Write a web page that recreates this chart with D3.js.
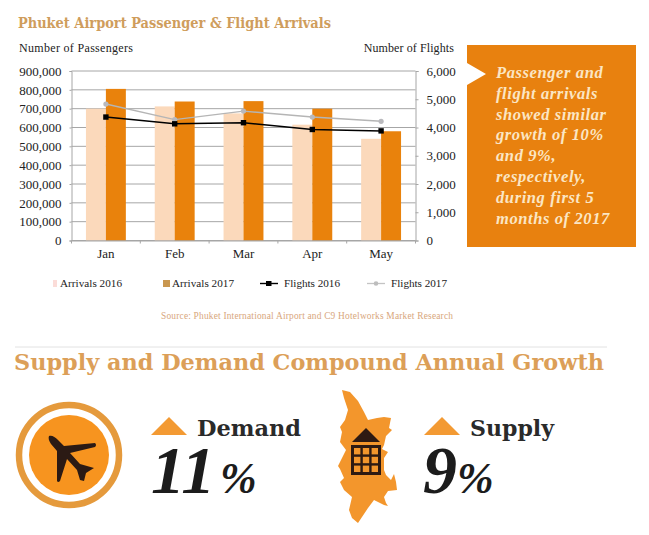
<!DOCTYPE html>
<html><head><meta charset="utf-8">
<script src="https://cdn.jsdelivr.net/npm/d3@7"></script>
<style>html,body{margin:0;padding:0;background:#fff}svg{display:block}text{font-family:"Liberation Serif",serif}</style>
</head><body><svg id="c" width="649" height="535"></svg>
<script>
const months=["Jan","Feb","Mar","Apr","May"];
const arrivals2016=[700000,712000,675000,615000,540000];
const arrivals2017=[805000,738000,740000,700000,580000];
const flights2016=[4370,4130,4170,3930,3880];
const flights2017=[4830,4280,4580,4370,4220];
const passengerTicks=[0,100000,200000,300000,400000,500000,600000,700000,800000,900000];
const flightTicks=[0,1000,2000,3000,4000,5000,6000];
const noteLines=["Passenger and","flight arrivals","showed similar","growth of 10%","and 9%,","respectively,","during first 5","months of 2017"];

const svg=d3.select("#c");
const L=71.5,R=415.5,T=71,B=240.5;
const x=d3.scaleBand().domain(months).range([L,R]).paddingInner(0.42).paddingOuter(0.21);
const yL=d3.scaleLinear().domain([0,900000]).range([B,T]);
const yR=d3.scaleLinear().domain([0,6000]).range([B,T]);
const cx=m=>x(m)+x.bandwidth()/2;
const fmt=d3.format(",");
const axisCol="#a6a6a6";
const wide='"DejaVu Serif",serif';

svg.append("text").attr("x",18).attr("y",27.5).attr("font-size",14.6).attr("font-weight","bold").attr("fill","#cf9d5c").attr("style",`font-family:${wide}`).attr("textLength",313).attr("lengthAdjust","spacingAndGlyphs").text("Phuket Airport Passenger & Flight Arrivals");
svg.append("text").attr("x",19).attr("y",52).attr("font-size",12).attr("fill","#222").attr("textLength",114).text("Number of Passengers");
svg.append("text").attr("x",454).attr("y",52).attr("text-anchor","end").attr("font-size",12).attr("fill","#222").attr("letter-spacing",0.1).text("Number of Flights");

// gridlines
svg.append("g").selectAll("line").data(passengerTicks).join("line")
 .attr("x1",L).attr("x2",R).attr("y1",d=>yL(d)).attr("y2",d=>yL(d)).attr("stroke",axisCol).attr("stroke-width",1);

// bars
const barW=x.bandwidth()/2;
svg.append("g").selectAll("rect").data(months).join("rect")
 .attr("x",m=>x(m)).attr("width",barW).attr("y",(m,i)=>yL(arrivals2016[i])).attr("height",(m,i)=>B-yL(arrivals2016[i])).attr("fill","#fbd9bb");
svg.append("g").selectAll("rect").data(months).join("rect")
 .attr("x",m=>x(m)+barW).attr("width",barW).attr("y",(m,i)=>yL(arrivals2017[i])).attr("height",(m,i)=>B-yL(arrivals2017[i])).attr("fill","#e9820c");

// axes
const aL=svg.append("g").attr("transform",`translate(${L},0)`).call(d3.axisLeft(yL).tickValues(passengerTicks).tickFormat(fmt).tickSize(2).tickPadding(8));
const aR=svg.append("g").attr("transform",`translate(${R},0)`).call(d3.axisRight(yR).tickValues(flightTicks).tickFormat(fmt).tickSize(3).tickPadding(8));
const aB=svg.append("g").attr("transform",`translate(0,${B})`).call(d3.axisBottom(x).tickSize(0).tickPadding(8));
[aL,aR,aB].forEach(a=>{a.selectAll("path,line").attr("stroke",axisCol);a.selectAll("text").attr("font-size",13).attr("fill","#222").attr("font-family",'"Liberation Serif",serif');});
const sep=d3.scaleBand().domain(months).range([L,R]);
svg.append("g").selectAll("line").data(months.concat(["end"])).join("line")
 .attr("x1",(m,i)=>L+i*sep.step()).attr("x2",(m,i)=>L+i*sep.step()).attr("y1",B).attr("y2",B+3).attr("stroke",axisCol);

// lines
const line=d3.line().x((d,i)=>cx(months[i])).y(d=>yR(d));
svg.append("path").attr("d",line(flights2017)).attr("fill","none").attr("stroke","#b5b5b5").attr("stroke-width",1.4);
svg.append("g").selectAll("circle").data(flights2017).join("circle").attr("cx",(d,i)=>cx(months[i])).attr("cy",d=>yR(d)).attr("r",2.6).attr("fill","#b9b9bd");
svg.append("path").attr("d",line(flights2016)).attr("fill","none").attr("stroke","#000").attr("stroke-width",1.5);
svg.append("g").selectAll("rect").data(flights2016).join("rect").attr("x",(d,i)=>cx(months[i])-2.7).attr("y",d=>yR(d)-2.7).attr("width",5.4).attr("height",5.4).attr("fill","#000");

// legend
const leg=svg.append("g").attr("font-size",11.2).attr("fill","#222");
leg.append("rect").attr("x",53).attr("y",280).attr("width",4).attr("height",7).attr("fill","#fbdcd8");
leg.append("text").attr("x",60).attr("y",287).attr("textLength",62).text("Arrivals 2016");
leg.append("rect").attr("x",163).attr("y",280).attr("width",7).attr("height",7).attr("fill","#c9974f");
leg.append("text").attr("x",172).attr("y",287).attr("textLength",62).text("Arrivals 2017");
leg.append("line").attr("x1",260).attr("x2",278).attr("y1",283.5).attr("y2",283.5).attr("stroke","#000").attr("stroke-width",1.4);
leg.append("rect").attr("x",266).attr("y",281).attr("width",5.5).attr("height",5).attr("fill","#000");
leg.append("text").attr("x",284).attr("y",287).attr("textLength",56).text("Flights 2016");
leg.append("line").attr("x1",367).attr("x2",385).attr("y1",283.5).attr("y2",283.5).attr("stroke","#c4c4c4").attr("stroke-width",1.3);
leg.append("circle").attr("cx",376).attr("cy",283.5).attr("r",2.3).attr("fill","#bdbdbd");
leg.append("text").attr("x",391).attr("y",287).attr("textLength",56).text("Flights 2017");
svg.append("text").attr("x",161).attr("y",319).attr("font-size",9.4).attr("fill","#d8a67c").attr("textLength",292).text("Source: Phuket International Airport and C9 Hotelworks Market Research");

// callout box
svg.append("path").attr("d","M467 45H636V247H467V85L486 74L467 63Z").attr("fill","#e8810f");
svg.append("g").selectAll("text").data(noteLines).join("text")
 .attr("x",496).attr("y",(d,i)=>78+i*20.8).attr("font-size",16.5).attr("font-style","italic").attr("font-weight","bold").attr("fill","#fbe6c4").attr("letter-spacing",0.6).text(d=>d);

// lower panel
svg.append("line").attr("x1",15).attr("x2",607).attr("y1",347).attr("y2",347).attr("stroke","#e2e2e2");
svg.append("text").attr("x",14).attr("y",370).attr("font-size",23).attr("font-weight","bold").attr("fill","#dc9f58").attr("style",`font-family:${wide}`).attr("textLength",590).attr("lengthAdjust","spacingAndGlyphs").text("Supply and Demand Compound Annual Growth");

svg.append("circle").attr("cx",69).attr("cy",455).attr("r",50).attr("fill","none").attr("stroke","#e59a3c").attr("stroke-width",6.5);
svg.append("circle").attr("cx",69).attr("cy",455).attr("r",40).attr("fill","#f7941f");
svg.append("path").attr("d","M49 436 C52 435 55 437 58 440 L64 446 L95 443 Q97 445 95 447 L70 453 L80 464 L94 468 L86 473 L84 481 L80 480 L77 470 L67 459 L60 481 Q58 483 57 481 L57 451 L51 444 C49 441 48 438 49 436Z").attr("fill","#2b1a14");

const tri=(x0)=>`M${x0} 435L${x0+18} 417L${x0+36} 435Z`;
svg.append("path").attr("d",tri(151)).attr("fill","#f39a33");
svg.append("text").attr("x",197).attr("y",435.5).attr("font-size",23).attr("font-weight","bold").attr("fill","#2a2a2a").attr("style",`font-family:${wide}`).attr("textLength",104).attr("lengthAdjust","spacingAndGlyphs").text("Demand");
svg.append("text").attr("x",151).attr("y",493).attr("font-size",68).attr("font-weight","bold").attr("font-style","italic").attr("fill","#1c1c1c").text("11");
svg.append("text").attr("x",220).attr("y",493).attr("font-size",44).attr("font-weight","bold").attr("font-style","italic").attr("fill","#1c1c1c").text("%");

svg.append("path").attr("d","M342 390 L350 392 L358 401 L364 412 L368 420 L377 418 L384 417 L391 418 L389 428 L392 430 L386 436 L384 445 L382 449 L388 452 L384 458 L384 470 L386 475 L391 480 L394 474 L396 482 L397 490 L388 491 L384 497 L386 503 L388 506 L384 505 L374 500 L368 508 L362 517 L358 523 L352 518 L349 510 L352 497 L344 490 L340 482 L344 478 L340 469 L338 466 L342 458 L346 450 L340 442 L342 432 L340 427 L345 420 L348 410 L344 398Z").attr("fill","#f3962c");
svg.append("path").attr("d","M352 442 L366 428 L380 442Z").attr("fill","#2e1a12");
const grid=[0,1,2];
svg.append("rect").attr("x",351).attr("y",445).attr("width",30).attr("height",30).attr("fill","#2e1a12");
svg.append("g").selectAll("rect").data(d3.cross(grid,grid)).join("rect")
 .attr("x",d=>354+d[0]*8.8).attr("y",d=>448+d[1]*8.8).attr("width",6.4).attr("height",6.4).attr("fill","#f3962c");

svg.append("path").attr("d",tri(424)).attr("fill","#f39a33");
svg.append("text").attr("x",470).attr("y",435.5).attr("font-size",23).attr("font-weight","bold").attr("fill","#2a2a2a").attr("style",`font-family:${wide}`).attr("textLength",84).attr("lengthAdjust","spacingAndGlyphs").text("Supply");
svg.append("text").attr("x",423).attr("y",493).attr("font-size",68).attr("font-weight","bold").attr("font-style","italic").attr("fill","#1c1c1c").text("9");
svg.append("text").attr("x",457).attr("y",493).attr("font-size",44).attr("font-weight","bold").attr("font-style","italic").attr("fill","#1c1c1c").text("%");
</script></body></html>
